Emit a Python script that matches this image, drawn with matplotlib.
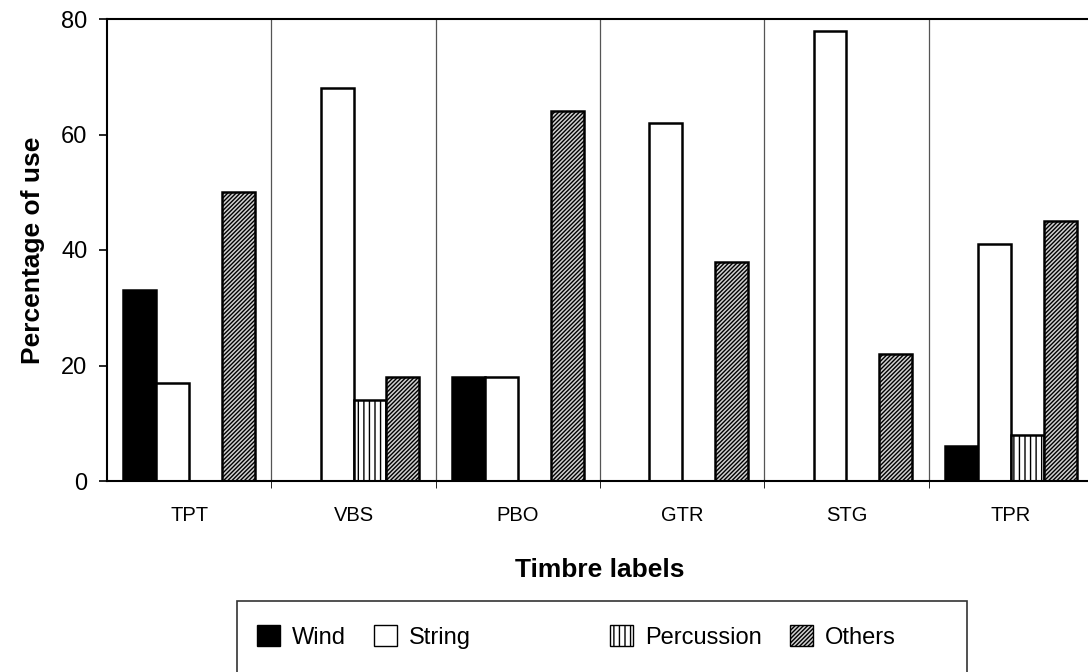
import numpy as np
import matplotlib
matplotlib.use("Agg")
import matplotlib.pyplot as plt
from matplotlib.patches import Rectangle, Patch

plt.rcParams['font.family'] = ['Liberation Sans', 'DejaVu Sans']
plt.rcParams['hatch.linewidth'] = 1.0

# data
labels = ['TPT', 'VBS', 'PBO', 'GTR', 'STG', 'TPR']
wind = [33, 0, 18, 0, 0, 6]
string = [17, 68, 18, 62, 78, 41]
percussion = [0, 14, 0, 0, 0, 8]
others = [50, 18, 64, 38, 22, 45]

series = ['Wind', 'String', 'Percussion', 'Others']
values = [wind, string, percussion, others]
fills = ['black', 'white', 'white', '#d0d0d0']
hatches = [None, None, '|||', '////////']

fig = plt.figure(figsize=(10.88, 6.72), dpi=100)
ax = fig.add_axes([107/1088, 1 - 481/672, (1093-107)/1088, (481-19)/672])

x = np.arange(len(labels))
w = 0.2
offsets = [-0.3, -0.1, 0.1, 0.3]
for vals, off, fc, h in zip(values, offsets, fills, hatches):
    for xi, v in zip(x, vals):
        if v > 0:
            ax.bar(xi + off, v, w, color=fc, edgecolor='black', linewidth=1.8, hatch=h)

# group separators
for b in np.arange(0.5, len(labels) - 0.5, 1.0):
    ax.axvline(b, color='#555555', linewidth=0.9)

ax.set_xlim(-0.5, len(labels) - 0.5)
ax.set_ylim(0, 80)
ax.set_yticks([0, 20, 40, 60, 80])
ax.set_xticks(x)
ax.set_xticklabels(labels, fontsize=14.5)
ax.set_xticks(np.arange(0.5, len(labels) - 0.5, 1.0), minor=True)
ax.tick_params(axis='x', which='major', length=0, pad=18)
ax.tick_params(axis='x', which='minor', length=5, direction='out')
ax.tick_params(axis='y', labelsize=17, length=6, width=1.2, direction='out', pad=8)
for s in ax.spines.values():
    s.set_linewidth(1.5)

ax.set_ylabel('Percentage of use', fontsize=19, fontweight='bold', labelpad=12)
ax.set_xlabel('Timbre labels', fontsize=19, fontweight='bold', labelpad=24)

# legend box
fig.patches.append(Rectangle((237/1088, -0.05), (967-237)/1088, (0.05 + (672-601)/672),
                             transform=fig.transFigure, facecolor='white',
                             edgecolor='#333333', linewidth=1.2))
leg_x = [240/1088, 357/1088, 593/1088, 773/1088]
for name, fc, h, lx in zip(series, fills, hatches, leg_x):
    fig.legend(handles=[Patch(facecolor=fc, edgecolor='black', hatch=h, linewidth=1.0)],
               labels=[name], loc='center left', bbox_to_anchor=(lx, 1 - 637/672),
               frameon=False, fontsize=17, handlelength=1.0, handleheight=1.0,
               handletextpad=0.5, borderpad=0.2)

fig.savefig('out.png', dpi=100)
